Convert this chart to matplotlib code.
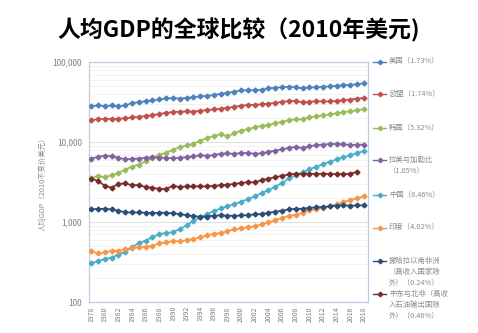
import matplotlib
matplotlib.use("Agg")
import matplotlib.pyplot as plt
from matplotlib.lines import Line2D
from matplotlib.ticker import FixedLocator, FuncFormatter, LogLocator, NullFormatter

plt.rcParams['font.family'] = ['Noto Sans CJK SC', 'DejaVu Sans']

years = list(range(1978, 2019))
us = [28200, 28800, 28400, 28800, 28000, 29000, 30800, 31800, 32600, 33300, 34300, 35300, 35700, 35200,
      35900, 36500, 37500, 38000, 39000, 40300, 41500, 43000, 44500, 44500, 44800, 45600, 47000, 48100,
      48900, 49400, 49000, 47100, 48400, 48800, 49500, 50000, 50900, 51900, 52300, 53100, 54500]
eu = [18800, 19400, 19600, 19600, 19700, 20000, 20400, 20800, 21300, 21800, 22600, 23300, 23900, 24100,
      24300, 24200, 24800, 25300, 25700, 26300, 27000, 27700, 28700, 29200, 29500, 29800, 30500, 31000,
      32000, 32900, 33000, 31500, 32100, 32600, 32400, 32400, 32900, 33600, 34200, 35100, 35900]
korea = [3550, 3780, 3650, 3850, 4100, 4550, 4950, 5250, 5750, 6350, 7000, 7400, 8000, 8700, 9100, 9600,
         10400, 11300, 12000, 12600, 11800, 13000, 14000, 14500, 15500, 15900, 16600, 17200, 18000, 18900,
         19300, 19400, 20500, 21100, 21600, 22300, 23000, 23700, 24400, 25200, 26000]
latam = [6250, 6550, 6800, 6700, 6400, 6100, 6200, 6250, 6400, 6450, 6400, 6400, 6300, 6400, 6500, 6650,
         6850, 6800, 6900, 7200, 7250, 7150, 7350, 7300, 7200, 7250, 7600, 7850, 8150, 8500, 8750, 8450,
         8900, 9200, 9350, 9500, 9500, 9400, 9250, 9300, 9350]
china = [305, 325, 345, 360, 390, 425, 485, 545, 585, 645, 710, 730, 750, 810, 915, 1030, 1150, 1260,
         1370, 1480, 1580, 1680, 1800, 1940, 2100, 2300, 2510, 2770, 3100, 3520, 3840, 4180, 4560, 4960,
         5320, 5700, 6090, 6480, 6890, 7310, 7750]
india = [435, 405, 420, 435, 440, 460, 470, 485, 495, 505, 540, 560, 580, 575, 595, 615, 645, 680, 715,
         730, 765, 820, 835, 865, 885, 940, 995, 1060, 1130, 1200, 1230, 1310, 1400, 1460, 1510, 1580,
         1670, 1780, 1900, 1990, 2100]
ssa = [1450, 1460, 1470, 1440, 1390, 1330, 1320, 1320, 1310, 1300, 1310, 1310, 1290, 1260, 1220, 1190,
       1170, 1175, 1205, 1215, 1205, 1200, 1210, 1225, 1250, 1265, 1310, 1350, 1395, 1440, 1470, 1470,
       1510, 1530, 1550, 1580, 1610, 1620, 1610, 1615, 1620]
mena_years = list(range(1978, 2018))
mena = [3500, 3300, 2850, 2700, 3000, 3050, 2900, 2900, 2750, 2700, 2600, 2600, 2850, 2750, 2800, 2800,
        2800, 2800, 2850, 2900, 2950, 3000, 3100, 3150, 3150, 3350, 3500, 3650, 3800, 3950, 4050, 4000,
        4050, 4000, 4050, 4000, 4000, 3980, 4050, 4250]

labels = ['美国（1.73%）', '欧盟（1.74%）', '韩国（5.32%）', '拉美与加勒比\n（1.05%）', '中国（8.46%）',
          '印度（4.02%）', '撒哈拉以南非洲\n（高收入国家除\n外）（0.24%）', '中东与北非（高收\n入石油输出国除\n外）（0.46%）']
colors = ['#4F81BD', '#C0504D', '#9BBB59', '#8064A2', '#4BACC6', '#F79646', '#2C4D75', '#772C2A']
series = [(years, us), (years, eu), (years, korea), (years, latam), (years, china), (years, india),
          (years, ssa), (mena_years, mena)]

fig = plt.figure(figsize=(4.78, 3.33), dpi=100)
ax = fig.add_axes([89/478, 1-302/333, (368-89)/478, (302-62.3)/333])

for (xs, ys), c in zip(series, colors):
    ax.plot(xs, ys, color=c, lw=1.2, marker='D', ms=2.5, mec=c, mfc=c, zorder=3)

ax.set_yscale('log')
ax.set_ylim(100, 100000)
ax.set_xlim(1977.7, 2018.6)
ax.yaxis.set_major_locator(FixedLocator([100, 1000, 10000, 100000]))
ax.yaxis.set_major_formatter(FuncFormatter(lambda v, p: f'{int(v):,}'))
ax.yaxis.set_minor_locator(LogLocator(base=10, subs=range(2, 10)))
ax.yaxis.set_minor_formatter(NullFormatter())
ax.set_xticks(list(range(1978, 2019, 2)))
ax.set_xticklabels([str(y) for y in range(1978, 2019, 2)], rotation=90)
ax.tick_params(axis='both', which='both', length=0, colors='#7F7F7F')
ax.tick_params(axis='y', labelsize=6, pad=5)
ax.tick_params(axis='x', labelsize=5, pad=3)
ax.grid(True, which='major', axis='y', color='#E0E0E0', lw=0.8, zorder=0)
ax.grid(True, which='minor', axis='y', color='#F0F0F0', lw=0.6, zorder=0)
for s in ax.spines.values():
    s.set_color('#B9CDE5')
    s.set_linewidth(0.9)
ax.set_ylabel('人均GDP（2010不变价美元）', fontsize=5.3, color='#8C8C8C', labelpad=4)

fig.text(0.5, 1-30/333, '人均GDP的全球比较（2010年美元)', ha='center', va='center',
         fontsize=16.5, fontweight='bold', color='black')

# legend drawn manually on the right
entry_y = [62, 94, 128, 160, 195, 228, 261, 294]
for lab, c, yy in zip(labels, colors, entry_y):
    yf = 1 - yy/333
    fig.add_artist(Line2D([373/478, 386/478], [yf, yf], color=c, lw=1.0,
                          transform=fig.transFigure))
    fig.add_artist(Line2D([379.5/478], [yf], color=c, marker='D', ms=2.3,
                          transform=fig.transFigure))
    fig.text(389/478, yf + 4.5/333, lab, ha='left', va='top', fontsize=5.3,
             color='#8C8C8C', linespacing=1.55)

fig.savefig('out.png', dpi=100)
